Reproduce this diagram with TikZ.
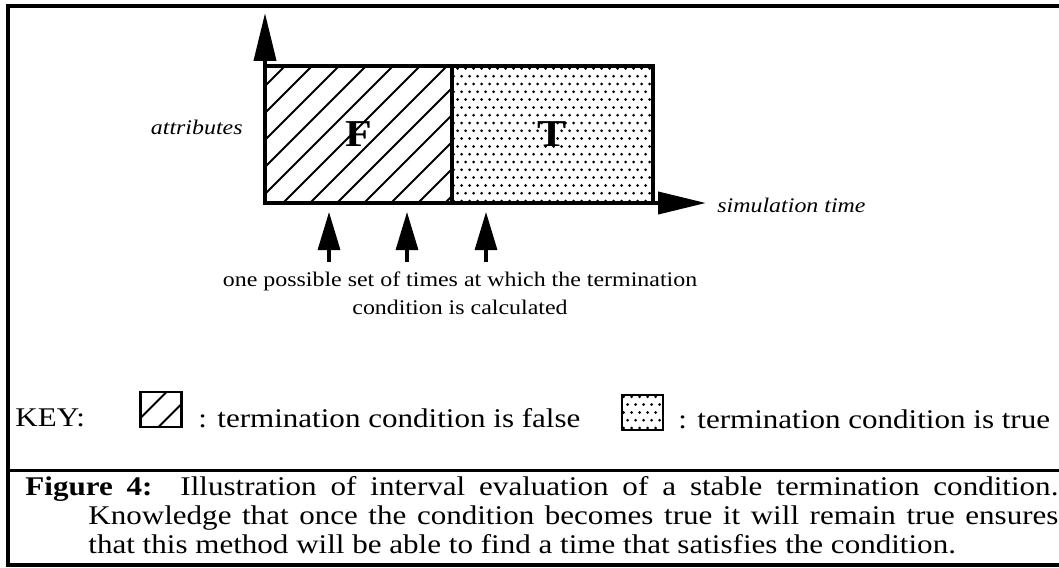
\documentclass[tikz,border=0pt]{standalone}
\usepackage{fontspec}
\setmainfont{Liberation Serif}[FakeStretch=1.15]
\usetikzlibrary{arrows.meta}
\tikzset{
  axisarr/.style={-{Triangle[length=24pt,width=11pt]}, line width=2pt},
  timearr/.style={-{Triangle[length=19pt,width=11pt]}, line width=1.6pt},
  hatchfill/.style={path picture={
      \foreach \k in {0,...,14}
        \draw[line width=0.9pt] ([xshift={\k*13.5pt-72pt}]path picture bounding box.south west) -- ++(80pt,80pt);}},
  dotfill/.style={path picture={
      \foreach \i in {0,...,26}
        \foreach \j in {0,...,18}
          \fill ([xshift={\i*4pt+mod(\j,2)*2pt+0.8pt},yshift={\j*3.9pt+1pt}]path picture bounding box.south west) circle (0.75pt);}},
  falsebox/.style={draw, line width=2pt, hatchfill, inner sep=0pt, font=\fontsize{19}{19}\selectfont\bfseries},
  truebox/.style={draw, line width=2pt, dotfill, inner sep=0pt, font=\fontsize{19}{19}\selectfont\bfseries},
  keybox/.style={line width=1.2pt, minimum width=20.5pt, minimum height=17.5pt},
  axislabel/.style={inner sep=0pt, font=\fontsize{10.4}{12}\selectfont\itshape},
  keytext/.style={anchor=base west, inner sep=0pt, font=\fontsize{13.5}{15}\selectfont},
  captext/.style={anchor=base west, inner sep=0pt, font=\fontsize{13.5}{15}\selectfont}
}
\begin{document}
\begin{tikzpicture}[x=0.5pt,y=-0.5pt]
  \useasboundingbox (0,0) rectangle (1059,567);
  \draw[line width=1.6pt] (1059,6) -- (8,6) -- (8,565) -- (1059,565);
  \draw[line width=1.5pt] (8,470) -- (1059,470);
  \node[falsebox, minimum width=93.5pt, minimum height=68.5pt] (F) at (358.5,134.5) {F};
  \node[truebox, minimum width=100.5pt, minimum height=68.5pt] (T) at (552.5,134.5) {T};
  \coordinate (origin) at (265,203);
  \coordinate (ytip) at (265,13);
  \coordinate (xtip) at (706,203);
  \draw[axisarr] (origin) -- (ytip);
  \draw[axisarr] (origin) -- (xtip);
  \node[axislabel, anchor=east] (attr) at (243,127) {attributes};
  \node[axislabel, anchor=west] (simtime) at (717,205) {simulation time};
  \foreach \n/\x in {1/329,2/407,3/486}{
    \coordinate (s\n) at (\x,262);
    \coordinate (t\n) at (\x,212);
    \draw[timearr] (s\n) -- (t\n);
  }
  \node[align=center, inner sep=0pt, font=\fontsize{10.4}{14}\selectfont] (note) at (460,293) {one possible set of times at which the termination\\condition is calculated};
  \node[keytext] (key) at (15,426) {KEY:};
  \node[falsebox, keybox] (kf) at (161,409.5) {};
  \node[keytext] (kft) at (198,427) {: termination condition is false};
  \node[truebox, keybox] (kt) at (642.5,412.5) {};
  \node[keytext] (ktt) at (678,428) {: termination condition is true};
  \node[captext] (cap1) at (25,495) {\makebox[516.5pt][s]{\textbf{Figure 4:}\ \ Illustration of interval evaluation of a stable termination condition.}};
  \node[captext] (cap2) at (88,524) {\makebox[485pt][s]{Knowledge that once the condition becomes true it will remain true ensures}};
  \node[captext] (cap3) at (88,553) {that this method will be able to find a time that satisfies the condition.};
\end{tikzpicture}
\end{document}
